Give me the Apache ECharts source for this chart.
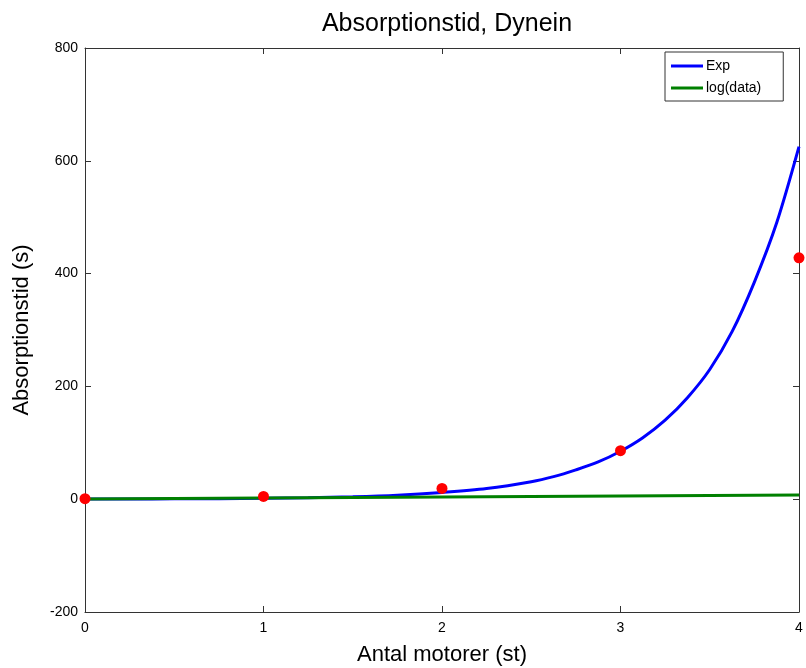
<!DOCTYPE html>
<html>
<head>
<meta charset="utf-8">
<script src="https://cdn.jsdelivr.net/npm/echarts@6/dist/echarts.min.js"></script>
<style>
  html, body { margin: 0; padding: 0; background: #fff; }
  #chart { width: 806px; height: 668px; }
</style>
</head>
<body>
<div id="chart"></div>
<script>
// fitted exponential curve
const expX = [0, 0.25, 0.5, 0.75, 1, 1.25, 1.5, 1.75, 2, 2.25, 2.5, 2.625, 2.75, 2.875, 3,
  3.125, 3.25, 3.375, 3.5, 3.625, 3.75, 3.875, 4];
const expY = [0.2, 0.35, 0.6, 0.9, 1.5, 2.6, 4.2, 7, 12, 19, 31, 40, 52, 66, 85,
  109, 140, 180, 230, 297, 385, 490, 625];
// measured points
const dataX = [0, 1, 2, 3, 4];
const dataY = [1, 5, 19, 86, 428];
// log(data) line
const logX = [0, 1, 2, 3, 4];
const logY = [0.3, 2, 3.8, 5.6, 7.4];

const xTicks = { min: 0, max: 4, interval: 1 };
const yTicks = { min: -200, max: 800, interval: 200 };

const font = 'Liberation Sans, Arial, sans-serif';
const axisColor = '#333';
const lineStyle = { color: axisColor, width: 1 };
const axisLine = { show: true, onZero: false, lineStyle };
const tickIn = { show: true, inside: true, length: 6, lineStyle };

const pairs = (xs, ys) => xs.map((x, i) => [x, ys[i]]);

const chart = echarts.init(document.getElementById('chart'));
chart.setOption({
  animation: false,
  title: {
    text: 'Absorptionstid, Dynein',
    left: 442,
    textAlign: 'center',
    top: 7,
    textStyle: { fontFamily: font, fontSize: 25, fontWeight: 'normal', color: '#000' },
  },
  grid: { left: 85, right: 7, top: 48, bottom: 56, containLabel: false, outerBoundsMode: 'none' },
  legend: {
    left: 665,
    top: 52,
    orient: 'vertical',
    backgroundColor: '#fff',
    borderColor: axisColor,
    borderWidth: 1,
    borderRadius: 0,
    padding: [7, 22, 6, 6],
    itemGap: 8,
    itemWidth: 32,
    itemHeight: 3,
    icon: 'rect',
    textStyle: { fontFamily: font, fontSize: 14, color: '#000', padding: [0, 0, 0, -2] },
    data: ['Exp', 'log(data)'],
  },
  xAxis: [
    {
      type: 'value',
      ...xTicks,
      name: 'Antal motorer (st)',
      nameLocation: 'middle',
      nameGap: 32,
      nameTextStyle: { fontFamily: font, fontSize: 22, color: '#000' },
      axisLine,
      axisTick: tickIn,
      axisLabel: { fontFamily: font, fontSize: 14, color: '#000', margin: 9 },
      splitLine: { show: false },
    },
    {
      type: 'value',
      ...xTicks,
      position: 'top',
      axisLine,
      axisTick: tickIn,
      axisLabel: { show: false },
      splitLine: { show: false },
    },
  ],
  yAxis: [
    {
      type: 'value',
      ...yTicks,
      name: 'Absorptionstid (s)',
      nameLocation: 'middle',
      nameGap: 52,
      nameTextStyle: { fontFamily: font, fontSize: 22, color: '#000' },
      axisLine,
      axisTick: tickIn,
      axisLabel: { fontFamily: font, fontSize: 14, color: '#000', margin: 7 },
      splitLine: { show: false },
    },
    {
      type: 'value',
      ...yTicks,
      position: 'right',
      axisLine,
      axisTick: tickIn,
      axisLabel: { show: false },
      splitLine: { show: false },
    },
  ],
  series: [
    {
      name: 'Exp',
      type: 'line',
      data: pairs(expX, expY),
      smooth: 0.3,
      showSymbol: false,
      color: '#0000ff',
      lineStyle: { width: 3, color: '#0000ff' },
      z: 3,
    },
    {
      name: 'log(data)',
      type: 'line',
      data: pairs(logX, logY),
      showSymbol: false,
      color: '#008000',
      lineStyle: { width: 3, color: '#008000' },
      z: 4,
    },
    {
      name: 'data',
      type: 'scatter',
      data: pairs(dataX, dataY),
      symbol: 'circle',
      symbolSize: 11,
      itemStyle: { color: '#ff0000', opacity: 1 },
      z: 5,
    },
  ],
});
</script>
</body>
</html>
